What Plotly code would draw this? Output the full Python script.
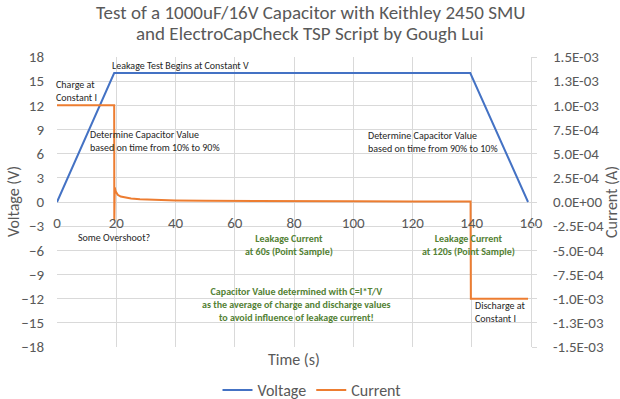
import plotly.graph_objects as go

# ---- data ----
voltage_time = [0, 19.3, 139.5, 159.0]
voltage_values = [0, 16, 16, 0]

current_time = [0, 19.3, 19.35, 19.5, 19.8, 20.5, 21.5, 23, 25, 28, 32, 36, 40,
                50, 60, 80, 100, 120, 139.6, 139.7, 159.0]
current_values = [1.0e-3, 1.0e-3, -1.9e-4, 1.5e-4, 1.1e-4, 7.5e-5, 5.6e-5, 4.4e-5,
                  3.6e-5, 2.9e-5, 2.3e-5, 1.9e-5, 1.6e-5, 1.2e-5, 1.0e-5, 8e-6,
                  7e-6, 6e-6, 5e-6, -1.0e-3, -1.0e-3]

x_ticks = [0, 20, 40, 60, 80, 100, 120, 140, 160]
v_ticks = [-18, -15, -12, -9, -6, -3, 0, 3, 6, 9, 12, 15, 18]
i_ticks = [-1.5e-3, -1.25e-3, -1.0e-3, -7.5e-4, -5.0e-4, -2.5e-4, 0,
           2.5e-4, 5.0e-4, 7.5e-4, 1.0e-3, 1.25e-3, 1.5e-3]
i_tick_labels = ["-1.5E-03", "-1.3E-03", "-1.0E-03", "-7.5E-04", "-5.0E-04", "-2.5E-04",
                 "0.0E+00", "2.5E-04", "5.0E-04", "7.5E-04", "1.0E-03", "1.3E-03", "1.5E-03"]

title_lines = ["Test of a 1000uF/16V Capacitor with Keithley 2450 SMU",
               "and ElectroCapCheck TSP Script by Gough Lui"]

FONT = "Carlito, Calibri, Lato, sans-serif"
GRAY = "#595959"
GRID = "#D9D9D9"
BLUE = "#4472C4"
ORANGE = "#ED7D31"
GREEN = "#548235"
DARK = "#262626"

fig = go.Figure()
fig.add_trace(go.Scatter(x=voltage_time, y=voltage_values, mode="lines", name="Voltage",
                         line=dict(color=BLUE, width=2), yaxis="y"))
fig.add_trace(go.Scatter(x=current_time, y=current_values, mode="lines", name="Current",
                         line=dict(color=ORANGE, width=2), yaxis="y2"))

L, R, T, B = 57, 89, 57, 52
W, H = 620, 399
pw, ph = W - L - R, H - T - B


def px_x(p):
    return (p - L) / pw


def px_y(p):
    return (T + ph - p) / ph


fig.update_layout(
    width=W, height=H,
    margin=dict(l=L, r=R, t=T, b=B, autoexpand=False),
    paper_bgcolor="white", plot_bgcolor="white",
    font=dict(family=FONT, color=GRAY),
    showlegend=True,
    legend=dict(orientation="h", x=px_x(312), xanchor="center",
                y=px_y(390), yanchor="middle",
                font=dict(size=16, color=GRAY, family=FONT), bgcolor="rgba(0,0,0,0)"),
    xaxis=dict(range=[0, 160], tickvals=x_ticks, showgrid=True, gridcolor=GRID, gridwidth=1,
               zeroline=False, showline=False, anchor="free", position=0.5,
               ticks="", ticklabelstandoff=10,
               tickfont=dict(size=15, color=GRAY, family=FONT)),
    yaxis=dict(range=[-18, 18], tickvals=v_ticks, showgrid=True, gridcolor=GRID, gridwidth=1,
               zeroline=False, showline=False, ticks="", ticklabelstandoff=12,
               tickfont=dict(size=15, color=GRAY, family=FONT)),
    yaxis2=dict(range=[-1.5e-3, 1.5e-3], tickvals=i_ticks, ticktext=i_tick_labels,
                overlaying="y", side="right", showgrid=False, zeroline=False,
                showline=True, linecolor=GRID, ticks="outside", ticklen=5, tickcolor=GRID,
                ticklabelstandoff=13,
                tickfont=dict(size=15, color=GRAY, family=FONT)),
)

# title lines
for line, ypix in zip(title_lines, [12, 33]):
    fig.add_annotation(text=line, xref="paper", yref="paper", x=px_x(310), y=px_y(ypix),
                       xanchor="center", yanchor="middle", showarrow=False,
                       font=dict(size=19, color=GRAY, family=FONT))

# axis titles
fig.add_annotation(text="Time (s)", xref="paper", yref="paper",
                   x=px_x(294), y=px_y(359), xanchor="center", yanchor="middle",
                   showarrow=False, font=dict(size=16, color=GRAY, family=FONT))
fig.add_annotation(text="Voltage (V)", xref="paper", yref="paper",
                   x=px_x(13), y=0.5, xanchor="center", yanchor="middle",
                   showarrow=False, textangle=-90,
                   font=dict(size=16, color=GRAY, family=FONT))
fig.add_annotation(text="Current (A)", xref="paper", yref="paper",
                   x=px_x(611), y=0.5, xanchor="center", yanchor="middle",
                   showarrow=False, textangle=-90,
                   font=dict(size=16, color=GRAY, family=FONT))

# call-out texts (text, x, y, anchor, colour, bold, xshift)
notes = [
    ("Charge at<br>Constant I", 0.0, 13.8, "left", DARK, False, -3),
    ("Leakage Test Begins at Constant V", 17.8, 17.0, "left", DARK, False, 0),
    ("Determine Capacitor Value<br>based on time from 10% to 90%", 10.6, 7.6, "left", DARK, False, 0),
    ("Determine Capacitor Value<br>based on time from 90% to 10%", 104.3, 7.4, "left", DARK, False, 0),
    ("Some Overshoot?", 19.3, -4.4, "center", DARK, False, 0),
    ("Leakage Current<br>at 60s (Point Sample)", 78.3, -5.3, "center", GREEN, True, 0),
    ("Leakage Current<br>at 120s (Point Sample)", 139.0, -5.3, "center", GREEN, True, 0),
    ("Capacitor Value determined with C=I*T/V<br>as the average of charge and discharge values"
     "<br>to avoid influence of leakage current!", 81.0, -12.7, "center", GREEN, True, 0),
    ("Discharge at<br>Constant I", 140.5, -13.6, "left", DARK, False, 0),
]
for text, x, y, anchor, color, bold, xs in notes:
    fig.add_annotation(text=f"<b>{text}</b>" if bold else text, x=x, y=y, xref="x", yref="y",
                       xanchor=anchor, yanchor="middle", align=anchor, showarrow=False,
                       xshift=xs, font=dict(size=10, color=color, family=FONT))

fig.write_html("out.html", config={"displayModeBar": False},
               post_script="document.body.style.margin='0px';")
